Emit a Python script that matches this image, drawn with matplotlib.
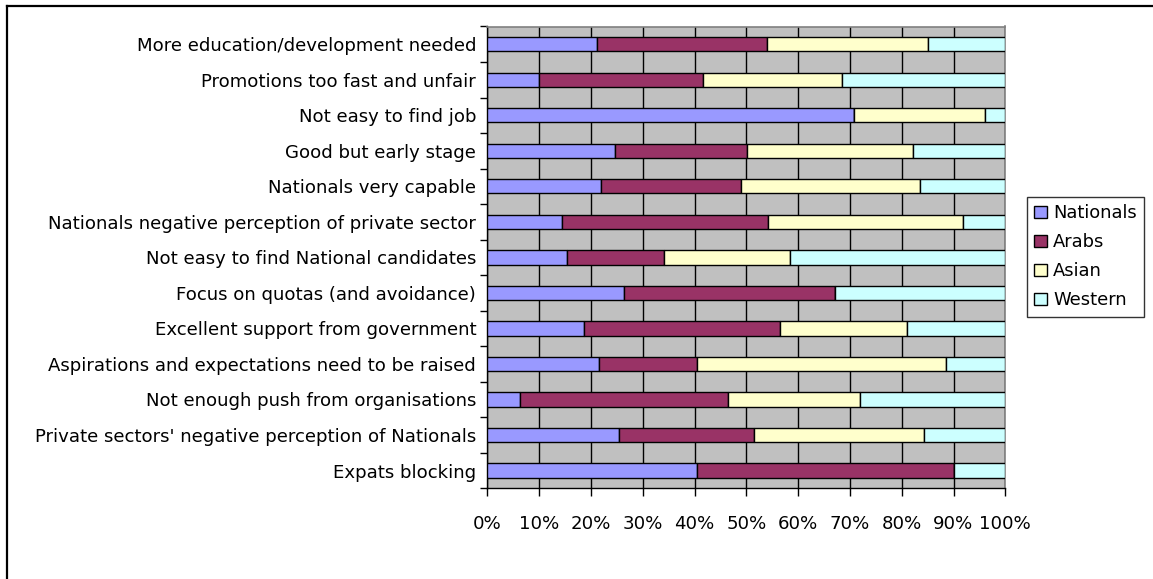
import matplotlib
matplotlib.use("Agg")
import matplotlib.pyplot as plt
from matplotlib.patches import Patch
from matplotlib.lines import Line2D
import numpy as np

categories = [
    "More education/development needed",
    "Promotions too fast and unfair",
    "Not easy to find job",
    "Good but early stage",
    "Nationals very capable",
    "Nationals negative perception of private sector",
    "Not easy to find National candidates",
    "Focus on quotas (and avoidance)",
    "Excellent support from government",
    "Aspirations and expectations need to be raised",
    "Not enough push from organisations",
    "Private sectors' negative perception of Nationals",
    "Expats blocking",
]

nationals = [21.2, 10.0, 70.8, 24.6, 22.0, 14.5, 15.3, 26.4, 18.7, 21.6, 6.4, 25.4, 40.5]
arabs     = [32.7, 31.7, 0.0, 25.5, 27.0, 39.7, 18.9, 40.7, 37.9, 18.9, 40.1, 26.0, 49.5]
asian     = [31.1, 26.8, 25.2, 32.1, 34.5, 37.6, 24.2, 0.0, 24.4, 48.0, 25.4, 32.9, 0.0]
western   = [15.0, 31.5, 4.0, 17.8, 16.5, 8.2, 41.6, 32.9, 19.0, 11.5, 28.1, 15.7, 10.0]

series_names = ["Nationals", "Arabs", "Asian", "Western"]
series_colors = ["#9999FF", "#993366", "#FFFFCC", "#CCFFFF"]
x_ticks = list(range(0, 101, 10))
x_tick_labels = [f"{v}%" for v in x_ticks]

W, H = 1153, 579
fig = plt.figure(figsize=(W / 100, H / 100), dpi=100)
plt.rcParams["font.family"] = ["DejaVu Sans"]
FS = 13.1

# plot area in pixel coordinates
left_px, right_px = 487.3, 1005.3
top_px, bottom_px = 26.5, 488.3
ax = fig.add_axes([left_px / W, 1 - bottom_px / H,
                   (right_px - left_px) / W, (bottom_px - top_px) / H])
ax.set_facecolor("#C0C0C0")

y = np.arange(len(categories))
data = np.array([nationals, arabs, asian, western])
totals = data.sum(axis=0)
shares = data / totals * 100
lefts = np.zeros(len(categories))
for vals, name, col in zip(shares, series_names, series_colors):
    ax.barh(y, vals, left=lefts, height=0.4, color=col, edgecolor="black",
            linewidth=1.0, label=name, zorder=3)
    lefts += vals

ax.set_xlim(0, 100)
ax.set_ylim(len(categories) - 0.5, -0.5)

ax.set_xticks(x_ticks)
ax.set_xticklabels(x_tick_labels, fontsize=FS)
ax.xaxis.grid(True, color="black", linewidth=1.0, zorder=0)
ax.set_axisbelow(True)

ax.set_yticks(y)
ax.set_yticklabels(categories, fontsize=FS)
ax.set_yticks(np.arange(-0.5, len(categories), 1.0), minor=True)
ax.tick_params(axis="y", which="major", length=0, pad=8)
ax.tick_params(axis="y", which="minor", length=5, width=1, direction="out")
ax.tick_params(axis="x", which="major", length=6, width=1, direction="out", pad=13)

for side in ("top", "right"):
    ax.spines[side].set_color("#808080")
    ax.spines[side].set_linewidth(1.2)
for side in ("left", "bottom"):
    ax.spines[side].set_color("black")
    ax.spines[side].set_linewidth(1.0)

handles = [Patch(facecolor=c, edgecolor="black", linewidth=1.0) for c in series_colors]
leg = fig.legend(handles, series_names, loc="upper left",
                 bbox_to_anchor=(1027 / W, 1 - 197 / H), fontsize=12.9,
                 frameon=True, fancybox=False, handlelength=0.7, handleheight=0.7,
                 handletextpad=0.35, labelspacing=0.62, borderpad=0.4,
                 borderaxespad=0)
leg.get_frame().set_edgecolor("black")
leg.get_frame().set_linewidth(1.0)

# chart area frame
fig.add_artist(Line2D([7 / W, 7 / W], [1 - 6 / H, 0], transform=fig.transFigure,
                      color="black", linewidth=1.6))
fig.add_artist(Line2D([7 / W, 1], [1 - 6 / H, 1 - 6 / H], transform=fig.transFigure,
                      color="black", linewidth=1.6))

fig.savefig("out.png", dpi=100)
